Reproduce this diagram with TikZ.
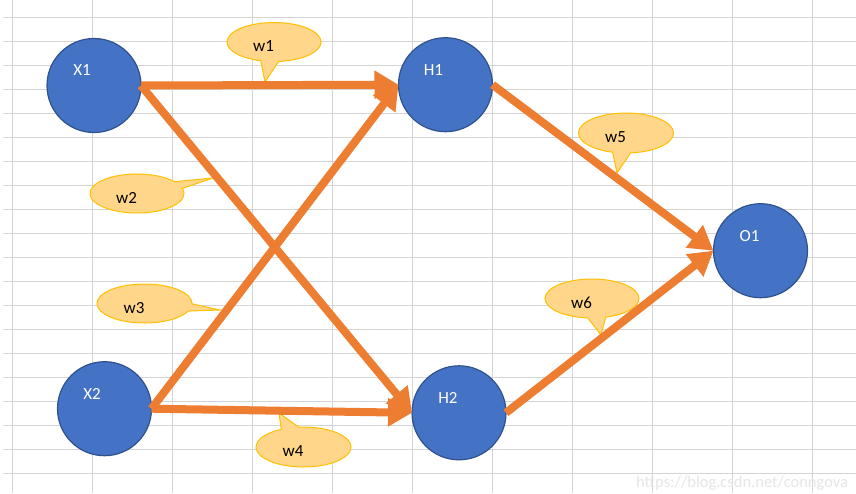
\documentclass[tikz,border=0pt]{standalone}
\usepackage{fontspec}
\setmainfont{Carlito}
\usetikzlibrary{arrows.meta,shapes.callouts}
\definecolor{nodeblue}{HTML}{4472C4}
\definecolor{nodeedge}{HTML}{2F528F}
\definecolor{arroworange}{HTML}{ED7D31}
\definecolor{calloutfill}{HTML}{FFD68A}
\definecolor{calloutedge}{HTML}{FFC000}
\definecolor{gridgray}{HTML}{D4D4D4}
\definecolor{wmgray}{HTML}{E6E6E6}
\begin{document}
\begin{tikzpicture}[x=1pt,y=-1pt,
  neuron/.style={circle, fill=nodeblue, draw=nodeedge, line width=1.2pt, minimum size=94pt, inner sep=0pt, outer sep=0pt},
  nlabel/.style={text=white, font=\fontsize{17}{20}\selectfont, inner sep=0pt},
  wbubble/.style={ellipse callout, fill=calloutfill, draw=calloutedge, line width=1pt, inner sep=0pt, outer sep=0pt, minimum width=94pt, minimum height=39pt, callout pointer arc=22},
  wlabel/.style={text=black, font=\fontsize{17}{20}\selectfont, inner sep=0pt},
  conn/.style={draw=arroworange, line width=8pt, -{Triangle[length=24pt,width=27pt]}},
  gridline/.style={draw=gridgray, line width=1pt}]
\useasboundingbox (0,0) rectangle (856,493);
\clip (0,0) rectangle (856,493);
\fill[white] (0,0) rectangle (856,493);
% grid
\foreach \gx in {12.5,92.5,...,812.5} {\draw[gridline] (\gx,0) -- (\gx,493);}
\foreach \gy in {17.3,41.3,...,473.3} {\draw[gridline] (3,\gy) -- (856,\gy);}
% watermark
\node[anchor=base west, inner sep=0pt, text=wmgray, font=\fontsize{16.5}{19}\selectfont] (wm) at (636,487) {https://blog.csdn.net/conngova};
% callout tips
\coordinate (t1) at (265,82);
\coordinate (t2) at (213,178);
\coordinate (t3) at (220,310);
\coordinate (t4) at (279,413);
\coordinate (t5) at (617,173);
\coordinate (t6) at (601,335);
% callouts
\node[wbubble, callout absolute pointer={(t1)}] (w1) at (274,42) {};
\node[wbubble, callout absolute pointer={(t2)}] (w2) at (137,193.5) {};
\node[wbubble, callout absolute pointer={(t3)}, minimum width=95pt] (w3) at (144.5,303.5) {};
\node[wbubble, callout absolute pointer={(t4)}, minimum width=95pt, minimum height=40pt] (w4) at (303.5,447) {};
\node[wbubble, callout absolute pointer={(t5)}, minimum width=95pt, minimum height=40pt] (w5) at (626,133) {};
\node[wbubble, callout absolute pointer={(t6)}] (w6) at (592,298.5) {};
\node[wlabel] (w1t) at (263.5,46) {w1};
\node[wlabel] (w2t) at (126.5,198) {w2};
\node[wlabel] (w3t) at (134,308) {w3};
\node[wlabel] (w4t) at (293,451.5) {w4};
\node[wlabel] (w5t) at (615.5,137.5) {w5};
\node[wlabel] (w6t) at (581.5,303) {w6};
% neurons
\node[neuron] (X1) at (94,85.5) {};
\node[neuron] (H1) at (445.5,84.7) {};
\node[neuron] (X2) at (104.5,408.7) {};
\node[neuron] (H2) at (459,412.8) {};
\node[neuron] (O1) at (760.5,250.7) {};
\node[nlabel] (X1t) at (82,70.5) {X1};
\node[nlabel] (H1t) at (433.5,70) {H1};
\node[nlabel] (X2t) at (92,394) {X2};
\node[nlabel] (H2t) at (448,397.5) {H2};
\node[nlabel] (O1t) at (749.5,236.5) {O1};
% connections
\draw[conn] (X1.east) -- (H1.west);
\draw[conn] (X1.east) -- (H2.west);
\draw[conn] (X2.east) -- (H1.west);
\draw[conn] (X2.east) -- (H2.west);
\draw[conn] (H1.east) -- (O1.west);
\draw[conn] (H2.east) -- (O1.west);
\end{tikzpicture}
\end{document}
